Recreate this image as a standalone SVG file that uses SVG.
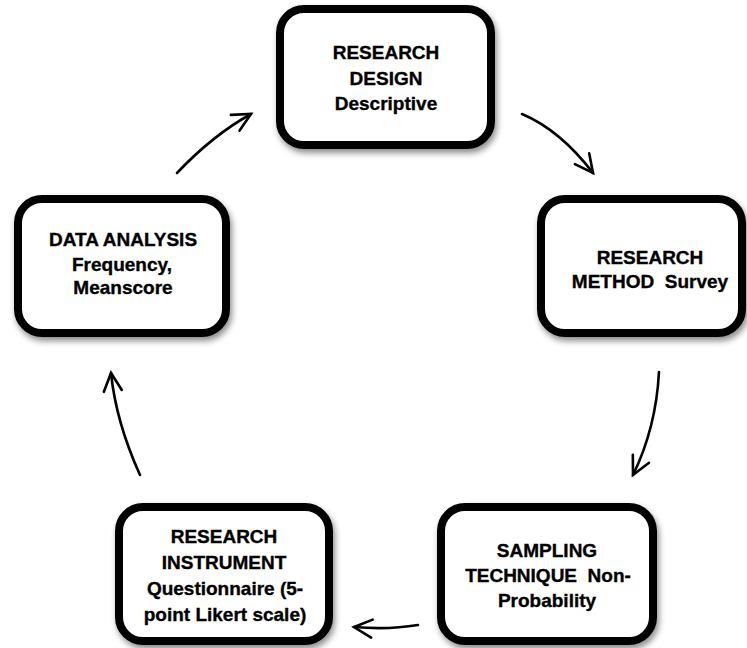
<svg xmlns="http://www.w3.org/2000/svg" width="747" height="648" viewBox="0 0 747 648">
<style>
.box{fill:#fff;stroke:#000;stroke-width:8;filter:url(#sh)}
.t{font-family:"Liberation Sans",Arial,sans-serif;font-weight:bold;font-size:19px;fill:#000;stroke:#000;stroke-width:0.35;text-anchor:middle}
.c{fill:none;stroke:#000;stroke-width:2.6;stroke-linecap:round;marker-end:url(#ah)}
</style>
<defs>
<filter id="sh" x="-10%" y="-10%" width="130%" height="140%">
<feDropShadow dx="2" dy="4" stdDeviation="3" flood-color="#000" flood-opacity="0.45"/>
</filter>
<marker id="ah" markerUnits="userSpaceOnUse" markerWidth="40" markerHeight="40" refX="0" refY="0" orient="auto" overflow="visible">
<path d="M-18,-9 L0,0 L-18,9" fill="none" stroke="#000" stroke-width="2.6" stroke-linecap="round" stroke-linejoin="miter"/>
</marker>
</defs>
<rect width="747" height="648" fill="#fff"/>
<g id="connectors">
<path class="c" d="M177,173 Q213,135 251,114"/>
<path class="c" d="M522,114 Q560,130 593,173"/>
<path class="c" d="M659,372 Q656,428 633,475"/>
<path class="c" d="M418,625 Q388,630 354,627"/>
<path class="c" d="M140,475 Q116,422 111,373"/>
</g>
<g id="design">
<rect class="box" x="280" y="9" width="211" height="136" rx="24"/>
<text class="t" x="386" y="59">RESEARCH</text>
<text class="t" x="386" y="85">DESIGN</text>
<text class="t" x="386" y="110">Descriptive</text>
</g>
<g id="method">
<rect class="box" x="541" y="199" width="201" height="134" rx="24"/>
<text class="t" x="650" y="264">RESEARCH</text>
<text class="t" x="650" y="288" xml:space="preserve">METHOD  Survey</text>
</g>
<g id="sampling">
<rect class="box" x="441" y="507" width="212" height="134" rx="24"/>
<text class="t" x="547" y="557">SAMPLING</text>
<text class="t" x="548" y="582" xml:space="preserve">TECHNIQUE  Non-</text>
<text class="t" x="547" y="607">Probability</text>
</g>
<g id="instrument">
<rect class="box" x="119" y="507" width="210" height="134" rx="24"/>
<text class="t" x="224" y="543">RESEARCH</text>
<text class="t" x="224" y="569">INSTRUMENT</text>
<text class="t" x="225" y="595">Questionnaire (5-</text>
<text class="t" x="225" y="621">point Likert scale)</text>
</g>
<g id="analysis">
<rect class="box" x="18" y="199" width="208" height="134" rx="24"/>
<text class="t" x="123" y="246">DATA ANALYSIS</text>
<text class="t" x="122" y="271">Frequency,</text>
<text class="t" x="123" y="294">Meanscore</text>
</g>
</svg>
